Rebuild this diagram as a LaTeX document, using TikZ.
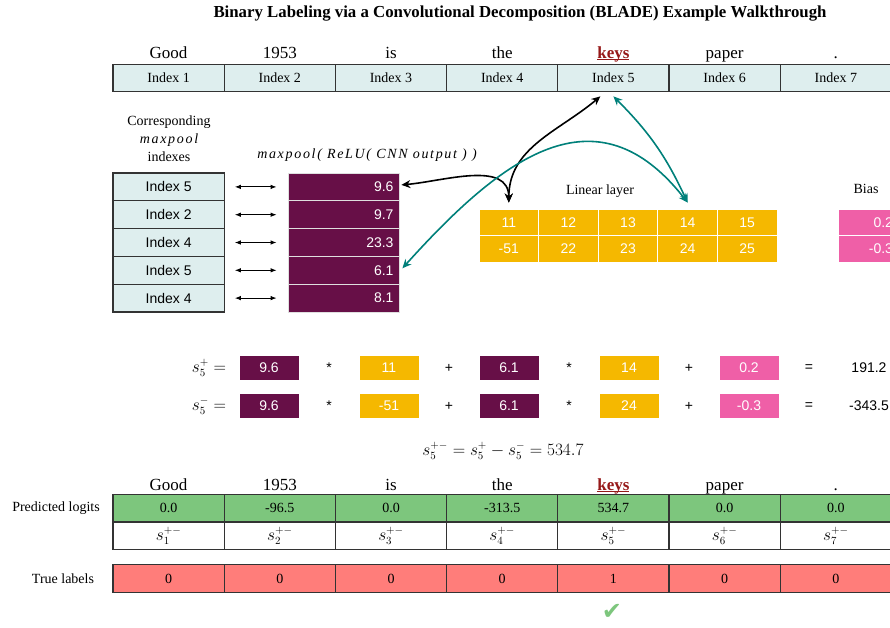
\documentclass[tikz,border=0pt]{standalone}
\usepackage{fontspec}
\setmainfont{Liberation Serif}
\setsansfont{Liberation Sans}
\newfontfamily\wideit[LetterSpace=12]{Liberation Serif}
\newfontfamily\symfont{DejaVu Sans}
\usetikzlibrary{arrows.meta,positioning}

\definecolor{idxblue}{RGB}{222,238,238}
\definecolor{maroon}{RGB}{103,15,71}
\definecolor{gold}{RGB}{245,184,0}
\definecolor{biaspink}{RGB}{239,95,167}
\definecolor{logitgreen}{RGB}{125,198,125}
\definecolor{labelred}{RGB}{255,125,122}
\definecolor{tealline}{RGB}{0,128,122}
\definecolor{keysred}{RGB}{150,25,25}

\newsavebox{\keysbox}
\newcommand{\keysword}{\sbox{\keysbox}{\color{keysred}\textbf{keys}}\textcolor{keysred}{\rlap{\usebox{\keysbox}}\rule[-2pt]{\wd\keysbox}{1.2pt}}}

\tikzset{
  cell/.style = {draw=black!80, line width=1.2pt, minimum width=111.2pt, minimum height=27.5pt, inner sep=0pt, font=\fontsize{14}{16}\selectfont},
  idx/.style = {cell, fill=idxblue},
  word/.style = {anchor=base, font=\fontsize{17}{19}\selectfont},
  lbox/.style = {cell, fill=idxblue, minimum height=27.8pt, font=\sffamily\fontsize{14}{16}\selectfont},
  pooled/.style = {fill=maroon, draw=white!75!gray, line width=0.8pt, minimum width=111pt, minimum height=27.8pt, text width=100pt, align=right, inner xsep=5pt, inner ysep=0pt, text=white, font=\sffamily\fontsize{14}{16}\selectfont},
  weight/.style = {fill=gold, draw=white, line width=1pt, minimum width=59.6pt, minimum height=26.5pt, inner sep=0pt, text=white, font=\sffamily\fontsize{14}{16}\selectfont},
  biasbox/.style = {fill=biaspink, draw=white, line width=1pt, minimum width=60pt, minimum height=26.5pt, text width=50pt, align=right, inner xsep=5pt, inner ysep=0pt, text=white, font=\sffamily\fontsize{14}{16}\selectfont},
  mpbox/.style = {fill=maroon, minimum width=59pt, minimum height=24pt, inner sep=0pt, text=white, font=\sffamily\fontsize{14}{16}\selectfont},
  wbox/.style = {mpbox, fill=gold},
  bbox/.style = {mpbox, fill=biaspink},
  op/.style = {font=\sffamily\fontsize{14}{16}\selectfont},
  res/.style = {font=\sffamily\fontsize{14}{16}\selectfont},
  caption/.style = {font=\fontsize{14}{18}\selectfont, align=center},
  link/.style = {line width=1.6pt, {Stealth[length=9pt,width=8pt]}-{Stealth[length=9pt,width=8pt]}},
  tlink/.style = {link, draw=tealline},
  pair/.style = {line width=0.9pt, {Latex[length=6pt,width=4.5pt]}-{Latex[length=6pt,width=4.5pt]}}
}

\begin{document}
\begin{tikzpicture}[x=1pt, y=1pt]
  \useasboundingbox (0,0) rectangle (890,-627);

  \node[font=\bfseries\fontsize{16.8}{18}\selectfont] (title) at (520,-14)
    {Binary Labeling via a Convolutional Decomposition (BLADE) Example Walkthrough};

  % sentence and its indexes
  \foreach \w [count=\i] in {Good,1953,is,the,{\keysword},paper,.}
    \node[word] (tw\i) at ({57.4+111.2*\i},-58) {\w};
  \foreach \i in {1,...,7}
    \node[idx] (ix\i) at ({57.4+111.2*\i},-78) {Index \i};

  % maxpool indexes and values
  \node[caption] (corr) at (169,-139) {Corresponding\\{\wideit\itshape maxpool}\\indexes};
  \node[font=\fontsize{14}{16}\selectfont] (mplabel) at (367,-155)
    {\wideit\itshape maxpool( ReLU( CNN output ) )};
  \foreach \v [count=\k] in {5,2,4,5,4}
    \node[lbox] (li\k) at (168.6,{-173-27.8*(\k-0.5)}) {Index \v};
  \foreach \v [count=\k] in {9.6,9.7,23.3,6.1,8.1}
    \node[pooled] (mp\k) at (343.5,{-173-27.8*(\k-0.5)}) {\v};
  \foreach \k in {1,...,5}
    \draw[pair] ([xshift=10pt]li\k.east) -- ([xshift=-11pt]mp\k.west);

  % linear layer and bias
  \node[font=\fontsize{14}{16}\selectfont] (linlabel) at (600,-191) {Linear layer};
  \foreach \v [count=\i] in {11,12,13,14,15}
    \node[weight] (pos\i) at ({479+59.6*(\i-0.5)},-222.3) {\v};
  \foreach \v [count=\i] in {-51,22,23,24,25}
    \node[weight] (neg\i) at ({479+59.6*(\i-0.5)},-248.8) {\v};
  \node[font=\fontsize{14}{16}\selectfont] (biaslabel) at (866,-189) {Bias};
  \node[biasbox] (bpos) at (868,-222.3) {0.2};
  \node[biasbox] (bneg) at (868,-248.8) {-0.3};

  \draw[link] ([xshift=-13pt,yshift=-4pt]ix5.south) to[out=220,in=90] ([yshift=6pt]pos1.north);
  \draw[link] ([xshift=2pt,yshift=2pt]mp1.east) to[out=5,in=90] ([yshift=6pt]pos1.north);
  \draw[tlink] ([yshift=-4pt]ix5.south) to[out=-45,in=115] ([yshift=6pt]pos4.north);
  \draw[tlink] ([xshift=3pt,yshift=2pt]mp4.east) to[out=48,in=128,looseness=1.3] ([yshift=6pt]pos4.north);

  % the two scores of index 5
  \node[font=\fontsize{16}{18}\selectfont] (splab) at (209,-368) {$s_5^{+}=$};
  \foreach \st/\v [count=\j] in {mpbox/9.6,op/*,wbox/11,op/+,mpbox/6.1,op/*,wbox/14,op/+,bbox/0.2,op/=,res/191.2}
    \node[\st] (sp\j) at ({209+60*\j},-368) {\v};
  \node[font=\fontsize{16}{18}\selectfont] (smlab) at (209,-406) {$s_5^{-}=$};
  \foreach \st/\v [count=\j] in {mpbox/9.6,op/*,wbox/-51,op/+,mpbox/6.1,op/*,wbox/24,op/+,bbox/-0.3,op/=,res/-343.5}
    \node[\st] (sm\j) at ({209+60*\j},-406) {\v};
  \node[font=\fontsize{16}{18}\selectfont] (diff) at (503,-451) {$s_5^{+-}=s_5^{+}-s_5^{-}=534.7$};

  % predictions and labels
  \foreach \w [count=\i] in {Good,1953,is,the,{\keysword},paper,.}
    \node[word] (bw\i) at ({57.4+111.2*\i},-490) {\w};
  \node[font=\fontsize{14}{16}\selectfont] (predlabel) at (56,-508) {Predicted logits};
  \foreach \v [count=\i] in {0.0,-96.5,0.0,-313.5,534.7,0.0,0.0}
    \node[cell, fill=logitgreen] (lg\i) at ({57.4+111.2*\i},-508) {\v};
  \foreach \i in {1,...,7}
    \node[cell, fill=white, font=\fontsize{16}{18}\selectfont] (sc\i) at ({57.4+111.2*\i},-536) {$s_{\i}^{+-}$};
  \node[font=\fontsize{14}{16}\selectfont] (truelabel) at (63,-578.5) {True labels};
  \foreach \v [count=\i] in {0,0,0,0,1,0,0}
    \node[cell, fill=labelred] (tl\i) at ({57.4+111.2*\i},-578.5) {\v};

  \node[text=logitgreen, font=\symfont\fontsize{24}{24}\selectfont] (tick) at (612,-612) {✔};
\end{tikzpicture}
\end{document}
